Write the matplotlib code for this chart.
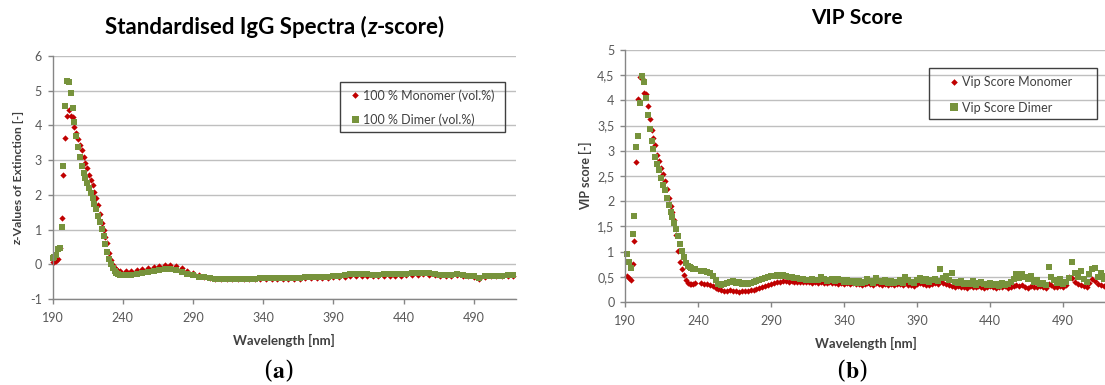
import numpy as np
import matplotlib
matplotlib.use("Agg")
import matplotlib.pyplot as plt
from matplotlib.ticker import FuncFormatter, MultipleLocator
from matplotlib.patches import Rectangle
from matplotlib import font_manager

plt.rcParams['font.family'] = ['Lato', 'DejaVu Sans']
plt.rcParams['axes.unicode_minus'] = False

# ---------------- data ----------------
# wavelength grid of the steep UV region (nm) and of the long tails (nm)
wl_peak = [190.0, 191.3, 192.6, 193.9, 195.2, 196.5, 197.8, 199.1, 200.4, 201.7,
           203.0, 204.3, 205.6, 206.9, 208.2, 209.5, 210.8, 212.1, 213.4, 214.7,
           216.0, 217.3, 218.6, 219.9, 221.2, 222.5, 223.8, 225.1, 226.4, 227.7,
           229.0, 230.3, 231.6, 232.9, 234.2, 235.5, 236.8, 238.1]
wl_tail_a = [242, 246, 250, 254, 258, 262, 266, 270, 274, 278, 282, 286, 290, 294,
             298, 302, 306, 310, 314, 318, 322, 326, 330, 334, 338, 342, 346, 350,
             354, 358, 362, 366, 370, 374, 378, 382, 386, 390, 394, 398, 402, 406,
             410, 414, 418, 422, 426, 430, 434, 438, 442, 446, 450, 454, 458, 462,
             466, 470, 474, 478, 482, 486, 490, 494, 498, 502, 506, 510, 514, 518]
wl_tail_b = list(range(242, 521, 2))
x_ticks = [190, 240, 290, 340, 390, 440, 490]

# (a) standardised spectra, z-score
z_mono_peak = [0.07, 0.07, 0.09, 0.14, 0.48, 1.32, 2.58, 3.64, 4.27, 4.45,
               4.28, 4.25, 3.95, 3.78, 3.60, 3.44, 3.29, 3.08, 2.92, 2.77,
               2.56, 2.43, 2.28, 2.08, 1.90, 1.70, 1.45, 1.20, 1.00, 0.80,
               0.60, 0.33, 0.12, -0.02, -0.10, -0.15, -0.18, -0.20]
z_dimer_peak = [0.18, 0.21, 0.26, 0.43, 0.46, 1.08, 2.83, 4.57, 5.27, 5.26,
                4.92, 4.50, 4.10, 3.70, 3.37, 3.08, 2.83, 2.62, 2.48, 2.34,
                2.20, 2.06, 1.91, 1.75, 1.58, 1.40, 1.22, 1.03, 0.82, 0.58,
                0.36, 0.16, 0.00, -0.12, -0.20, -0.25, -0.28, -0.30]
z_mono_tail = [-0.20, -0.19, -0.17, -0.14, -0.11, -0.08, -0.05, -0.03, -0.03, -0.06,
               -0.12, -0.19, -0.26, -0.32, -0.36, -0.39, -0.41, -0.43, -0.43, -0.43,
               -0.43, -0.43, -0.42, -0.42, -0.42, -0.42, -0.42, -0.42, -0.41, -0.41,
               -0.41, -0.41, -0.40, -0.40, -0.40, -0.39, -0.39, -0.38, -0.37, -0.36,
               -0.34, -0.33, -0.33, -0.34, -0.35, -0.35, -0.34, -0.34, -0.33, -0.33,
               -0.32, -0.31, -0.30, -0.29, -0.30, -0.32, -0.34, -0.35, -0.33, -0.32,
               -0.33, -0.35, -0.36, -0.42, -0.37, -0.35, -0.35, -0.35, -0.34, -0.34]
z_dimer_tail = [-0.31, -0.30, -0.28, -0.26, -0.23, -0.20, -0.17, -0.15, -0.15, -0.17,
                -0.22, -0.27, -0.32, -0.36, -0.38, -0.40, -0.41, -0.42, -0.42, -0.42,
                -0.42, -0.41, -0.41, -0.41, -0.40, -0.40, -0.40, -0.40, -0.40, -0.39,
                -0.39, -0.39, -0.38, -0.38, -0.37, -0.37, -0.36, -0.35, -0.34, -0.32,
                -0.29, -0.27, -0.27, -0.28, -0.30, -0.30, -0.29, -0.29, -0.28, -0.28,
                -0.27, -0.26, -0.25, -0.24, -0.25, -0.28, -0.31, -0.32, -0.30, -0.29,
                -0.31, -0.33, -0.34, -0.40, -0.35, -0.33, -0.33, -0.33, -0.32, -0.32]

# (b) VIP scores
vip_mono_peak = [np.nan, 0.52, 0.48, 0.44, 0.76, 1.22, 2.77, 4.03, 4.46, 4.45,
                 4.14, 4.12, 3.89, 3.64, 3.42, 3.25, 3.11, 2.92, 2.80, 2.66,
                 2.53, 2.40, 2.25, 2.06, 1.90, 1.78, 1.62, 1.33, 1.02, 0.80,
                 0.65, 0.53, 0.44, 0.38, 0.36, 0.35, 0.36, 0.37]
vip_dimer_peak = [np.nan, 0.95, 0.80, 0.67, 1.34, 1.71, 3.07, 3.29, 3.94, 4.48,
                  4.37, 4.04, 3.71, 3.43, 3.20, 3.03, 2.88, 2.74, 2.62, 2.47,
                  2.33, 2.22, 2.07, 1.93, 1.79, 1.68, 1.56, 1.45, 1.31, 1.16,
                  1.01, 0.89, 0.78, 0.72, 0.69, 0.67, 0.66, 0.65]
vip_mono_tail = [0.37, 0.36, 0.36, 0.34, 0.31, 0.28, 0.25, 0.23, 0.22, 0.22,
                 0.23, 0.21, 0.22, 0.20, 0.21, 0.22, 0.21, 0.23, 0.23, 0.25,
                 0.27, 0.29, 0.31, 0.34, 0.36, 0.38, 0.39, 0.40, 0.41, 0.41,
                 0.40, 0.41, 0.40, 0.40, 0.39, 0.40, 0.39, 0.39, 0.38, 0.39,
                 0.38, 0.39, 0.37, 0.38, 0.39, 0.37, 0.38, 0.36, 0.38, 0.36,
                 0.37, 0.35, 0.37, 0.35, 0.36, 0.34, 0.36, 0.37, 0.35, 0.34,
                 0.37, 0.35, 0.34, 0.36, 0.33, 0.35, 0.34, 0.36, 0.35, 0.33,
                 0.37, 0.34, 0.33, 0.32, 0.35, 0.38, 0.36, 0.34, 0.33, 0.36,
                 0.37, 0.35, 0.42, 0.38, 0.36, 0.33, 0.31, 0.30, 0.31, 0.29,
                 0.30, 0.28, 0.31, 0.30, 0.29, 0.31, 0.30, 0.28, 0.29, 0.31,
                 0.29, 0.28, 0.30, 0.29, 0.31, 0.28, 0.30, 0.32, 0.33, 0.31,
                 0.34, 0.30, 0.28, 0.32, 0.30, 0.29, 0.31, 0.30, 0.28, 0.36,
                 0.33, 0.30, 0.29, 0.32, 0.30, 0.33, 0.50, 0.47, 0.40, 0.36,
                 0.33, 0.31, 0.30, 0.38, 0.45, 0.42, 0.35, 0.34, 0.32, 0.33]
vip_dimer_tail = [0.62, 0.62, 0.60, 0.57, 0.52, 0.44, 0.36, 0.33, 0.35, 0.38,
                  0.40, 0.42, 0.38, 0.40, 0.36, 0.37, 0.35, 0.38, 0.40, 0.42,
                  0.44, 0.45, 0.47, 0.49, 0.51, 0.52, 0.53, 0.52, 0.53, 0.51,
                  0.50, 0.49, 0.48, 0.47, 0.46, 0.45, 0.44, 0.44, 0.45, 0.43,
                  0.44, 0.50, 0.45, 0.42, 0.43, 0.46, 0.42, 0.45, 0.43, 0.40,
                  0.43, 0.39, 0.41, 0.38, 0.42, 0.37, 0.40, 0.45, 0.41, 0.38,
                  0.48, 0.42, 0.39, 0.43, 0.37, 0.41, 0.38, 0.40, 0.44, 0.38,
                  0.49, 0.43, 0.40, 0.37, 0.44, 0.47, 0.41, 0.45, 0.39, 0.43,
                  0.46, 0.41, 0.66, 0.48, 0.52, 0.44, 0.58, 0.40, 0.37, 0.42,
                  0.35, 0.38, 0.36, 0.41, 0.34, 0.37, 0.40, 0.35, 0.33, 0.37,
                  0.34, 0.36, 0.32, 0.38, 0.34, 0.36, 0.40, 0.45, 0.56, 0.48,
                  0.56, 0.50, 0.45, 0.52, 0.40, 0.44, 0.36, 0.38, 0.34, 0.70,
                  0.50, 0.43, 0.38, 0.46, 0.35, 0.40, 0.48, 0.79, 0.58, 0.50,
                  0.62, 0.45, 0.40, 0.55, 0.66, 0.68, 0.50, 0.58, 0.45, 0.52]

labels_a = ["100 % Monomer (vol.%)", "100 % Dimer (vol.%)"]
labels_b = ["Vip Score Monomer", "Vip Score Dimer"]

# ---------------- style ----------------
RED = "#C00000"
GREEN = "#77933C"
GRID = "#BFBFBF"
AXC = "#868686"
TICKC = "#595959"
LABC = "#404040"

# an installed family that really has a bold italic face
ITAL_FAMILY = 'DejaVu Sans'
for fam in ['Lato', 'Open Sans', 'Roboto', 'Noto Sans']:
    try:
        p = font_manager.findfont(font_manager.FontProperties(
            family=fam, style='italic', weight='bold'), fallback_to_default=False)
        if 'italic' in p.lower() and fam.replace(' ', '').lower() in p.replace(' ', '').lower():
            ITAL_FAMILY = fam
            break
    except Exception:
        pass

W, H = 1105, 385
fig = plt.figure(figsize=(W / 100, H / 100), dpi=100)
renderer = fig.canvas.get_renderer()


def fx(px):
    return px / W


def fy(py):
    return 1 - py / H


def rich_text(pieces, cx, cy, size, color, rotation=0):
    """pieces: list of (text, italic) drawn bold, centred at pixel (cx, cy)."""
    arts = []
    for s, ital in pieces:
        kw = dict(fontsize=size, fontweight='bold', color=color, va='center',
                  ha='left', rotation=rotation, rotation_mode='anchor')
        if ital:
            kw.update(fontstyle='italic', family=ITAL_FAMILY)
        t = fig.text(0, 0, s, **kw)
        arts.append(t)
    widths = []
    for t in arts:
        t.set_rotation(0)
        widths.append(t.get_window_extent(renderer).width)
        t.set_rotation(rotation)
    total = sum(widths)
    pos = -total / 2
    for t, w in zip(arts, widths):
        if rotation == 90:
            t.set_position((fx(cx), fy(cy - pos)))
        else:
            t.set_position((fx(cx + pos), fy(cy)))
        pos += w


def style_axes(ax, ymin, ymax, ystep, fmt):
    ax.set_xlim(190, 520)
    ax.set_ylim(ymin, ymax)
    ax.set_xticks(x_ticks)
    ax.yaxis.set_major_locator(MultipleLocator(ystep))
    ax.yaxis.set_major_formatter(FuncFormatter(fmt))
    ax.xaxis.set_major_formatter(FuncFormatter(lambda v, _: f"{int(round(v))}"))
    ax.grid(axis='y', color=GRID, linewidth=1.0)
    ax.set_axisbelow(True)
    for s in ['top', 'right']:
        ax.spines[s].set_visible(False)
    for s in ['left', 'bottom']:
        ax.spines[s].set_color(AXC)
        ax.spines[s].set_linewidth(1.0)
    ax.tick_params(axis='both', colors=AXC, length=3.5, width=1.0,
                   labelcolor=TICKC, labelsize=9, pad=4)
    ax.tick_params(axis='x', pad=6)


def series(ax, wl_a, ya, wl_b, yb, color, marker, ms, label):
    x = list(wl_a) + list(wl_b)
    y = list(ya) + list(yb)
    ax.plot(x, y, linestyle='none', marker=marker, markersize=ms, color=color,
            markeredgewidth=0, label=label, clip_on=False)


def legend_box(ax, x0, y0, x1, y1, mx, ty, spacing, labels_):
    fig.add_artist(Rectangle((fx(x0), fy(y1)), fx(x1 - x0), (y1 - y0) / H,
                             transform=fig.transFigure, fill=False,
                             edgecolor="#404040", linewidth=1.0))
    h, _ = ax.get_legend_handles_labels()
    em = 9 * 100 / 72
    leg = ax.legend(h, labels_, loc='upper left', frameon=False,
                    bbox_to_anchor=(fx(mx - 0.3 * em), fy(ty)),
                    bbox_transform=fig.transFigure, borderpad=0, borderaxespad=0,
                    handlelength=0.6, handletextpad=0.35, labelspacing=spacing,
                    fontsize=9, markerscale=1.05)
    for t in leg.get_texts():
        t.set_color(LABC)


# ---------------- (a) ----------------
axa = fig.add_axes([fx(52.5), fy(299), fx(516 - 52.5), (299 - 56) / H])
style_axes(axa, -1, 6, 1, lambda v, _: f"{int(round(v))}")
series(axa, wl_peak, z_mono_peak, wl_tail_a, z_mono_tail, RED, 'D', 3.2, labels_a[0])
series(axa, wl_peak, z_dimer_peak, wl_tail_a, z_dimer_tail, GREEN, 's', 4.8, labels_a[1])
legend_box(axa, 340, 82, 505, 132, 355, 89, 0.92, labels_a)

rich_text([("Standardised IgG Spectra (", False), ("z", True), ("-score)", False)],
          275, 27, 16, 'black')
axa.set_xlabel("Wavelength [nm]", fontsize=9.5, fontweight='bold', color=LABC, labelpad=7)
rich_text([("z", True), ("-Values of Extinction [-]", False)], 18, 178, 8.8, LABC,
          rotation=90)
fig.text(fx(278), fy(371), r"($\mathbf{a}$)", fontsize=17, ha='center', va='center',
         family='DejaVu Serif', math_fontfamily='stix')

# ---------------- (b) ----------------
axb = fig.add_axes([fx(625), fy(302), fx(1107 - 625), (302 - 50) / H])
style_axes(axb, 0, 5, 0.5, lambda v, _: f"{v:g}".replace('.', ','))
series(axb, wl_peak, vip_mono_peak, wl_tail_b, vip_mono_tail, RED, 'D', 3.2, labels_b[0])
series(axb, wl_peak, vip_dimer_peak, wl_tail_b, vip_dimer_tail, GREEN, 's', 5.0, labels_b[1])
legend_box(axb, 929, 68, 1097, 119, 954, 76, 1.08, labels_b)

fig.text(fx(857), fy(18), "VIP Score", fontsize=15, fontweight='bold',
         ha='center', va='center', color='black')
axb.set_xlabel("Wavelength [nm]", fontsize=9.5, fontweight='bold', color=LABC, labelpad=7)
fig.text(fx(586), fy(176), "VIP score [-]", rotation=90, fontsize=9,
         fontweight='bold', color=LABC, ha='center', va='center')
fig.text(fx(852), fy(371), r"($\mathbf{b}$)", fontsize=17, ha='center', va='center',
         family='DejaVu Serif', math_fontfamily='stix')

fig.savefig("out.png", dpi=100)
